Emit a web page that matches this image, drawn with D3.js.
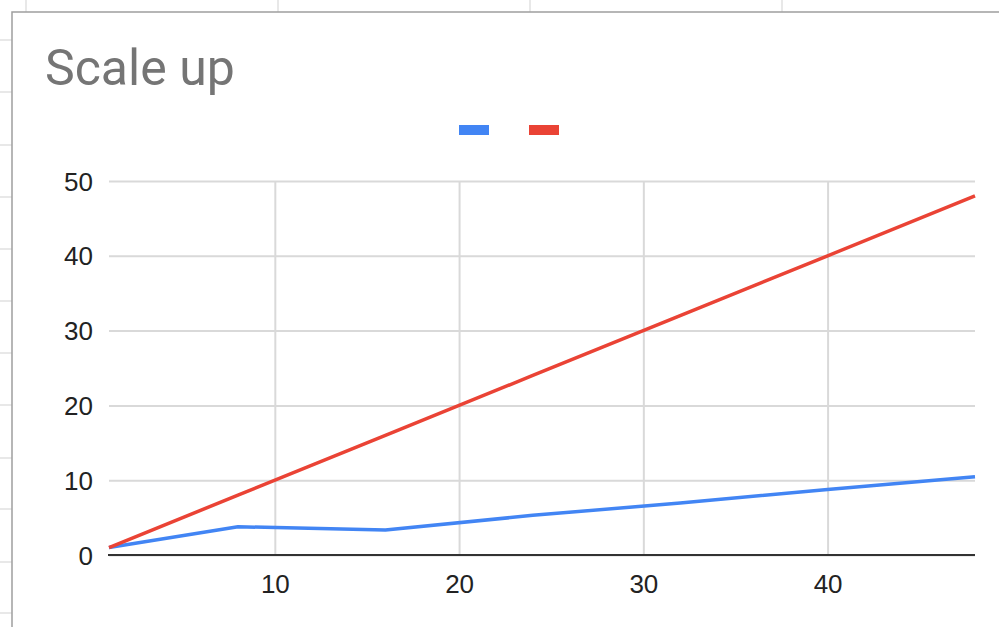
<!DOCTYPE html>
<html>
<head>
<meta charset="utf-8">
<script src="https://cdn.jsdelivr.net/npm/d3@7"></script>
<style>
  html, body { margin: 0; padding: 0; background: #fff; }
  svg { display: block; }
</style>
</head>
<body>
<svg id="chart" width="999" height="627"></svg>
<script>
// Series data
const xValues = [1, 8, 16, 24, 32, 40, 48];
const seriesA = [1, 3.78, 3.34, 5.3, 6.95, 8.77, 10.45];   // blue
const seriesB = [1, 8, 16, 24, 32, 40, 48];                 // red
const seriesNames = ["", ""];
const seriesColors = ["#4285F4", "#EA4335"];
const xTicks = [10, 20, 30, 40];
const yTicks = [0, 10, 20, 30, 40, 50];
const titleText = "Scale up";

// Spreadsheet cell grid behind the chart
const sheetCols = [26, 278, 530, 782];
const sheetRows = [40, 92, 145, 197, 249, 301, 353, 405, 458, 509, 562, 613];

const W = 999, H = 627;
const svg = d3.select("#chart");

// background sheet grid
const bg = svg.append("g");
bg.selectAll("line.col").data(sheetCols).join("line")
  .attr("x1", d => d).attr("x2", d => d).attr("y1", 0).attr("y2", H)
  .attr("stroke", "#e0e0e0").attr("stroke-width", 1.5);
bg.selectAll("line.row").data(sheetRows).join("line")
  .attr("x1", 0).attr("x2", W).attr("y1", d => d).attr("y2", d => d)
  .attr("stroke", "#e0e0e0").attr("stroke-width", 1.5);

// chart panel
svg.append("rect")
  .attr("x", 12).attr("y", 12).attr("width", W + 10).attr("height", H + 10)
  .attr("fill", "#fff").attr("stroke", "#9e9e9e").attr("stroke-width", 1.5);

// title
svg.append("text")
  .attr("x", 45).attr("y", 85)
  .attr("font-family", "Roboto, 'Liberation Sans', Arial, sans-serif")
  .attr("font-size", 50)
  .attr("fill", "#757575")
  .text(titleText);

// scales
const x = d3.scaleLinear().domain([1, 48]).range([109, 975]);
const y = d3.scaleLinear().domain([0, 50]).range([555, 181]);

// horizontal gridlines
const yAxis = d3.axisLeft(y).tickValues(yTicks).tickSize(-(975 - 109)).tickPadding(16).tickFormat(d3.format("d"));
const gy = svg.append("g").attr("transform", "translate(109,0)").call(yAxis);
gy.select(".domain").remove();
gy.selectAll(".tick line").attr("stroke", "#d9d9d9").attr("stroke-width", 2);
gy.selectAll(".tick text")
  .attr("font-family", "'Liberation Sans', Arial, sans-serif")
  .attr("font-size", 26).attr("fill", "#222").attr("dy", "0.35em");

// vertical gridlines + x labels
const xAxis = d3.axisBottom(x).tickValues(xTicks).tickSize(-(555 - 181)).tickPadding(20).tickFormat(d3.format("d"));
const gx = svg.append("g").attr("transform", "translate(0,555)").call(xAxis);
gx.select(".domain").remove();
gx.selectAll(".tick line").attr("stroke", "#d9d9d9").attr("stroke-width", 2);
gx.selectAll(".tick text")
  .attr("font-family", "'Liberation Sans', Arial, sans-serif")
  .attr("font-size", 26).attr("fill", "#222");

// baseline
svg.append("line")
  .attr("x1", x(1) - 1).attr("x2", x(48)).attr("y1", y(0)).attr("y2", y(0))
  .attr("stroke", "#333").attr("stroke-width", 2);

// lines
const line = d3.line().x((d, i) => x(xValues[i])).y(d => y(d));
[seriesA, seriesB].forEach((s, i) => {
  svg.append("path")
    .datum(s)
    .attr("d", line)
    .attr("fill", "none")
    .attr("stroke", seriesColors[i])
    .attr("stroke-width", 3.5)
    .attr("stroke-linejoin", "round")
    .attr("stroke-linecap", "butt");
});

// legend swatches (series have no names)
const legend = svg.append("g");
legend.selectAll("rect").data(seriesColors).join("rect")
  .attr("x", (d, i) => 459 + i * 70).attr("y", 125)
  .attr("width", 30).attr("height", 10)
  .attr("fill", d => d);
legend.selectAll("text").data(seriesNames).join("text")
  .attr("x", (d, i) => 495 + i * 70).attr("y", 134)
  .attr("font-family", "'Liberation Sans', Arial, sans-serif")
  .attr("font-size", 22).attr("fill", "#222")
  .text(d => d);
</script>
</body>
</html>
